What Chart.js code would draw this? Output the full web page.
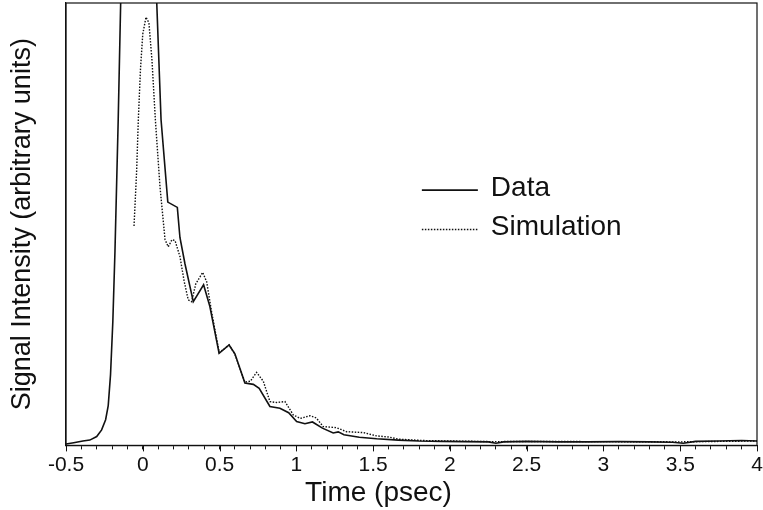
<!DOCTYPE html>
<html>
<head>
<meta charset="utf-8">
<script src="https://cdn.jsdelivr.net/npm/chart.js@4.4.1/dist/chart.umd.min.js"></script>
<style>
  html, body { margin: 0; padding: 0; background: #fff; }
  canvas { display: block; }
</style>
</head>
<body>
<canvas id="decayChart" width="763" height="510"></canvas>
<script>
// measured trace (solid)
const dataTime = [-0.5, -0.45, -0.39, -0.345, -0.30, -0.268, -0.242, -0.225, -0.21, -0.195,
  -0.181, -0.160, -0.144, -0.10, -0.03, 0.03, 0.06, 0.091, 0.119, 0.163, 0.225, 0.242, 0.275,
  0.329, 0.396, 0.437, 0.497, 0.562, 0.600, 0.665, 0.720, 0.758, 0.828, 0.893, 0.950, 1.002,
  1.056, 1.105, 1.170, 1.240, 1.273, 1.310, 1.410, 1.523, 1.664, 1.80, 1.95, 2.10, 2.25, 2.30,
  2.35, 2.50, 2.70, 2.90, 3.10, 3.30, 3.45, 3.52, 3.60, 3.75, 3.90, 4.0];
const dataSignal = [0.3, 0.6, 1.0, 1.2, 2.0, 3.5, 5.8, 9.0, 16, 28,
  44, 73.6, 100, 165, 190, 160, 130, 100, 73.6, 55, 53.8, 47, 41,
  32.5, 36.3, 31.4, 20.8, 22.7, 20.7, 14.1, 13.8, 12.9, 8.8, 8.4, 7.4, 5.4,
  4.9, 5.3, 3.9, 2.8, 3.05, 2.4, 1.85, 1.5, 1.2, 1.0, 0.9, 0.85, 0.8, 0.5,
  0.8, 0.9, 0.8, 0.8, 0.85, 0.8, 0.7, 0.5, 0.9, 1.0, 1.1, 1.0];

// simulated trace (dotted)
const simTime = [-0.057, -0.04, -0.029, -0.015, 0.0, 0.021, 0.04, 0.06, 0.082, 0.112, 0.145,
  0.166, 0.190, 0.210, 0.242, 0.270, 0.296, 0.318, 0.345, 0.390, 0.416, 0.449, 0.498, 0.563,
  0.600, 0.665, 0.700, 0.741, 0.785, 0.828, 0.870, 0.926, 0.980, 1.025, 1.089, 1.130, 1.175,
  1.262, 1.327, 1.436, 1.523, 1.60, 1.67, 1.82, 2.0, 2.28, 2.5, 3.0, 3.5, 4.0];
const simSignal = [49.6, 62, 73.6, 85, 93, 96.8, 95.5, 87, 73.6, 58.5, 46.5,
  44.9, 46.5, 46.3, 42.7, 37, 32.9, 32.5, 36.5, 39.1, 37.0, 30.0, 21.0, 22.7,
  20.6, 14.3, 14.5, 16.5, 14.5, 9.9, 9.7, 9.9, 6.9, 6.1, 6.7, 6.2, 4.25,
  4.0, 3.1, 2.9, 2.15, 1.9, 1.4, 1.1, 1.0, 0.85, 0.9, 0.85, 0.8, 1.0];

const xTickValues = [-0.5, 0, 0.5, 1, 1.5, 2, 2.5, 3, 3.5, 4];
const xTickLabels = ['-0.5', '0', '0.5', '1', '1.5', '2', '2.5', '3', '3.5', '4'];

const FONT = "'Liberation Sans', Arial, Helvetica, sans-serif";
const INK = '#111';

const toPoints = (xs, ys) => xs.map((x, i) => ({ x: x, y: ys[i] }));

const majorLabel = (value) => {
  const idx = xTickValues.findIndex((v) => Math.abs(v - value) < 1e-6);
  return idx === -1 ? '' : xTickLabels[idx];
};

// box around the plot, longer major ticks and the inset legend
const framePlugin = {
  id: 'frame',
  afterDraw(chart) {
    const { ctx, chartArea: a } = chart;
    const xs = chart.scales.x;
    ctx.save();
    ctx.strokeStyle = INK;
    ctx.lineWidth = 1.2;
    ctx.strokeRect(a.left, a.top, a.right - a.left, a.bottom - a.top);

    ctx.lineWidth = 1;
    xTickValues.forEach((v) => {
      const px = Math.round(xs.getPixelForValue(v)) + 0.5;
      ctx.beginPath();
      ctx.moveTo(px, a.bottom);
      ctx.lineTo(px, a.bottom + 6);
      ctx.stroke();
    });

    // legend
    const lx = a.left + (a.right - a.left) * 0.515;
    const rows = [a.top + (a.bottom - a.top) * 0.423, a.top + (a.bottom - a.top) * 0.512];
    ctx.font = '28px ' + FONT;
    ctx.fillStyle = INK;
    ctx.textBaseline = 'middle';
    chart.data.datasets.forEach((ds, i) => {
      const y = rows[i];
      ctx.beginPath();
      ctx.setLineDash(ds.borderDash || []);
      ctx.lineWidth = ds.borderWidth;
      ctx.moveTo(lx, y);
      ctx.lineTo(lx + 56, y);
      ctx.stroke();
      ctx.setLineDash([]);
      ctx.fillText(ds.label, lx + 69, y - 2);
    });
    ctx.restore();
  }
};

new Chart(document.getElementById('decayChart').getContext('2d'), {
  type: 'line',
  data: {
    datasets: [
      {
        label: 'Data',
        data: toPoints(dataTime, dataSignal),
        borderColor: INK,
        borderWidth: 1.6,
        pointRadius: 0,
        tension: 0,
        fill: false,
      },
      {
        label: 'Simulation',
        data: toPoints(simTime, simSignal),
        borderColor: INK,
        borderWidth: 1.4,
        borderDash: [1.5, 1.5],
        pointRadius: 0,
        tension: 0,
        fill: false,
      },
    ],
  },
  options: {
    responsive: false,
    animation: false,
    devicePixelRatio: 1,
    layout: { padding: { top: 3, right: 6, left: 0, bottom: 0 } },
    plugins: {
      legend: { display: false },
      tooltip: { enabled: false },
      title: {
        display: true,
        position: 'bottom',
        text: 'Time (psec)',
        color: INK,
        font: { family: FONT, size: 28, weight: 'normal' },
        padding: { top: 0, bottom: 0 },
      },
    },
    scales: {
      x: {
        type: 'linear',
        min: -0.5,
        max: 4,
        grid: { drawOnChartArea: false, drawTicks: true, tickLength: 4, color: INK },
        border: { display: true, color: INK, width: 1.2 },
        ticks: {
          stepSize: 0.1,
          autoSkip: false,
          maxRotation: 0,
          padding: 3,
          color: INK,
          font: { family: FONT, size: 21 },
          callback: (value) => majorLabel(value),
        },
        afterFit: (scale) => {
          scale.height = 31;
          scale.paddingLeft = 0;
          scale.paddingRight = 0;
        },
      },
      y: {
        min: 0,
        max: 100,
        grid: { display: false },
        border: { display: true, color: INK, width: 1.2 },
        ticks: { display: false },
        title: {
          display: true,
          text: 'Signal Intensity (arbitrary units)',
          color: INK,
          font: { family: FONT, size: 27 },
          padding: { top: 6, bottom: 0 },
        },
        afterFit: (scale) => { scale.width = 66; },
      },
    },
  },
  plugins: [framePlugin],
});
</script>
</body>
</html>
